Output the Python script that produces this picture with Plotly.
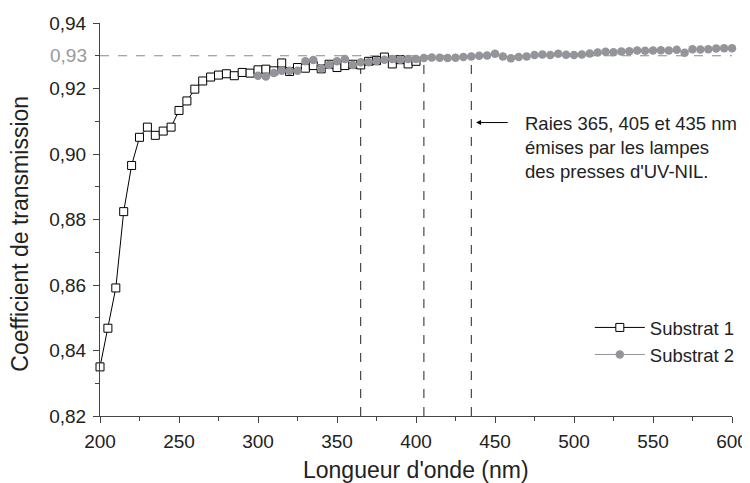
import plotly.graph_objects as go

# Substrat 1
x1 = list(range(200, 405, 5))
y1 = [0.8350, 0.8468, 0.8591, 0.8824, 0.8965, 0.9051, 0.9082, 0.9057, 0.9070, 0.9082,
      0.9133, 0.9162, 0.9198, 0.9223, 0.9235, 0.9241, 0.9245, 0.9239, 0.9249, 0.9247,
      0.9257, 0.9259, 0.9254, 0.9278, 0.9252, 0.9264, 0.9262, 0.9270, 0.9260, 0.9274,
      0.9264, 0.9270, 0.9274, 0.9272, 0.9283, 0.9285, 0.9296, 0.9275, 0.9288, 0.9275,
      0.9283]

# Substrat 2
x2 = list(range(300, 605, 5))
y2 = [0.9239, 0.9237, 0.9247, 0.9254, 0.9254, 0.9254, 0.9283, 0.9287, 0.9262, 0.9272,
      0.9283, 0.9290, 0.9272, 0.9280, 0.9280, 0.9284, 0.9288, 0.9290, 0.9288, 0.9290,
      0.9290, 0.9293, 0.9295, 0.9294, 0.9293, 0.9294, 0.9296, 0.9298, 0.9300, 0.9301,
      0.9306, 0.9298, 0.9292, 0.9296, 0.9298, 0.9302, 0.9304, 0.9302, 0.9306, 0.9303,
      0.9302, 0.9304, 0.9307, 0.9310, 0.9312, 0.9311, 0.9313, 0.9314, 0.9316, 0.9315,
      0.9316, 0.9317, 0.9316, 0.9318, 0.9309, 0.9320, 0.9319, 0.9320, 0.9322, 0.9323,
      0.9323]

lamp_lines = [365, 405, 435]
ref_level = 0.93
y_ticks = [0.82, 0.84, 0.86, 0.88, 0.90, 0.92, 0.94]
y_tick_text = ["0,82", "0,84", "0,86", "0,88", "0,90", "0,92", "0,94"]
x_ticks = [200, 250, 300, 350, 400, 450, 500, 550, 600]

FONT = "Liberation Sans, Arial, sans-serif"
AX = "#444444"
GRAY = "#939598"
TXT = "#222222"

fig = go.Figure()

fig.add_trace(go.Scatter(
    x=x1, y=y1, name="Substrat 1", mode="lines+markers",
    line=dict(color="black", width=1),
    marker=dict(symbol="square", size=8, color="white", line=dict(color="black", width=1)),
    cliponaxis=False,
))
fig.add_trace(go.Scatter(
    x=x2, y=y2, name="Substrat 2", mode="lines+markers",
    line=dict(color=GRAY, width=1),
    marker=dict(symbol="circle", size=8.5, color=GRAY, line=dict(width=0)),
    cliponaxis=False,
))

# reference horizontal dashed line
fig.add_shape(type="line", xref="x", yref="y", x0=200, x1=600, y0=ref_level, y1=ref_level,
              line=dict(color="#888888", width=1, dash="dash"), layer="below")
for xv in lamp_lines:
    fig.add_shape(type="line", xref="x", yref="y", x0=xv, x1=xv, y0=0.82, y1=ref_level,
                  line=dict(color="#222222", width=1, dash="dash"), layer="below")

# gray 0,93 tick label
fig.add_annotation(x=0, xref="paper", y=ref_level, yref="y", text="0,93", showarrow=False,
                   xanchor="right", xshift=-11, font=dict(family=FONT, size=19, color="#9a9a9a"))

# arrow + text
fig.add_annotation(x=438, y=0.9096, ax=459, ay=0.9096, xref="x", yref="y", axref="x", ayref="y",
                   text="", showarrow=True, arrowhead=2, arrowsize=1, arrowwidth=1,
                   arrowcolor="black", standoff=0)
fig.add_annotation(x=467.5, y=0.9019, xref="x", yref="y", xanchor="left", yanchor="middle",
                   align="left", showarrow=False,
                   text="Raies 365, 405 et 435 nm<br>émises par les lampes<br>des presses d'UV-NIL.",
                   font=dict(family=FONT, size=18.5, color=TXT))

# axis titles
fig.add_annotation(x=-0.1266, y=0.464, xref="paper", yref="paper", textangle=-90,
                   xanchor="center", yanchor="middle", showarrow=False,
                   text="Coefficient de transmission", font=dict(family=FONT, size=23, color=TXT))
fig.add_annotation(x=0.5, y=-0.137, xref="paper", yref="paper",
                   xanchor="center", yanchor="middle", showarrow=False,
                   text="Longueur d'onde (nm)", font=dict(family=FONT, size=23, color=TXT))

fig.update_layout(
    width=750, height=483,
    margin=dict(l=92, r=26, t=15, b=75),
    paper_bgcolor="white", plot_bgcolor="white",
    font=dict(family=FONT, size=19, color=TXT),
    showlegend=True,
    legend=dict(x=0.775, y=0.2725, xanchor="left", yanchor="top",
                bgcolor="rgba(0,0,0,0)", font=dict(family=FONT, size=18.5, color=TXT),
                itemwidth=50, tracegroupgap=0),
    xaxis=dict(range=[200, 600], tickvals=x_ticks, ticks="outside", ticklen=6,
               tickcolor=AX, showline=True, linecolor=AX, linewidth=1, showgrid=False,
               zeroline=False, automargin=False, ticklabelstandoff=2,
               minor=dict(dtick=25, tick0=200, ticks="outside", ticklen=4, tickcolor=AX),
               tickfont=dict(family=FONT, size=19, color=TXT)),
    yaxis=dict(range=[0.82, 0.94], tickvals=y_ticks, ticktext=y_tick_text, ticks="outside",
               ticklen=6, tickcolor=AX, showline=True, linecolor=AX, linewidth=1,
               showgrid=False, zeroline=False, automargin=False, ticklabelstandoff=3,
               minor=dict(dtick=0.01, tick0=0.82, ticks="outside", ticklen=4, tickcolor=AX),
               tickfont=dict(family=FONT, size=19, color=TXT)),
)

fig.write_html("out.html")
